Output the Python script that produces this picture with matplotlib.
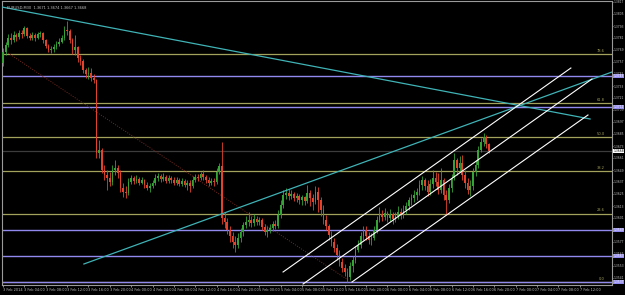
import numpy as np
import matplotlib
matplotlib.use('Agg')
import matplotlib.pyplot as plt

# prices are kept in points (1 point = 0.0001)
POINT = 1e-4
symbol_line = 'EURUSD,M30  1.3671 1.3674 1.3667 1.3668'

open_first = 13756
close_pts = [
    13767, 13774, 13781, 13779, 13784, 13782, 13786, 13785, 13791, 13783,
    13781, 13784, 13781, 13785, 13786, 13779, 13773, 13769, 13770, 13772,
    13775, 13777, 13781, 13789, 13788, 13779, 13769, 13772, 13761, 13758,
    13749, 13745, 13746, 13741, 13739, 13666, 13669, 13649, 13644, 13641,
    13637, 13649, 13651, 13646, 13631, 13627, 13626, 13637, 13641, 13638,
    13640, 13636, 13639, 13634, 13631, 13633, 13636, 13641, 13643, 13640,
    13642, 13638, 13641, 13639, 13636, 13639, 13635, 13638, 13634, 13636,
    13633, 13639, 13642, 13641, 13645, 13642, 13639, 13636, 13638, 13637,
    13647, 13653, 13601, 13597, 13589, 13583, 13577, 13574, 13581, 13587,
    13594, 13597, 13599, 13596, 13600, 13597, 13599, 13592, 13587, 13589,
    13591, 13595, 13593, 13604, 13614, 13624, 13626, 13623, 13625, 13621,
    13623, 13619, 13622, 13618, 13626, 13621, 13617, 13627, 13619, 13609,
    13599, 13593, 13584, 13577, 13571, 13564, 13557, 13551, 13547, 13542,
    13553, 13559, 13569, 13574, 13583, 13589, 13583, 13579, 13581, 13589,
    13599, 13605, 13602, 13606, 13601, 13605, 13600, 13603, 13607, 13604,
    13609, 13613, 13619, 13621, 13624, 13627, 13634, 13639, 13633, 13627,
    13635, 13641, 13637, 13629, 13639, 13624, 13619, 13631, 13641, 13659,
    13651, 13656, 13644, 13636, 13629, 13633, 13647, 13654, 13669, 13677,
    13682, 13675, 13668]
high_pts = [
    13771, 13777, 13785, 13786, 13788, 13786, 13789, 13789, 13793, 13792,
    13786, 13787, 13786, 13787, 13788, 13787, 13780, 13775, 13773, 13775,
    13778, 13781, 13784, 13793, 13798, 13790, 13781, 13784, 13773, 13764,
    13760, 13751, 13752, 13751, 13745, 13740, 13679, 13671, 13654, 13649,
    13647, 13654, 13659, 13654, 13649, 13636, 13633, 13641, 13644, 13643,
    13644, 13642, 13642, 13640, 13637, 13636, 13639, 13645, 13646, 13645,
    13646, 13644, 13644, 13643, 13642, 13642, 13641, 13641, 13640, 13639,
    13639, 13643, 13645, 13645, 13647, 13649, 13644, 13642, 13641, 13641,
    13651, 13656, 13677, 13607, 13601, 13593, 13587, 13583, 13586, 13591,
    13597, 13603, 13607, 13603, 13605, 13603, 13602, 13601, 13595, 13593,
    13595, 13598, 13599, 13609, 13619, 13629, 13631, 13630, 13629, 13627,
    13626, 13625, 13624, 13623, 13634, 13629, 13625, 13633, 13632, 13622,
    13614, 13604, 13595, 13588, 13581, 13575, 13569, 13561, 13555, 13551,
    13557, 13563, 13573, 13579, 13587, 13593, 13593, 13587, 13586, 13593,
    13603, 13612, 13609, 13611, 13608, 13610, 13607, 13607, 13613, 13611,
    13614, 13617, 13622, 13625, 13629, 13631, 13639, 13643, 13641, 13639,
    13640, 13649, 13647, 13646, 13651, 13641, 13629, 13635, 13645, 13666,
    13661, 13663, 13664, 13649, 13641, 13639, 13651, 13659, 13673, 13681,
    13686, 13684, 13676]
low_pts = [
    13753, 13764, 13772, 13775, 13777, 13778, 13780, 13781, 13783, 13781,
    13779, 13779, 13778, 13780, 13782, 13776, 13771, 13767, 13766, 13767,
    13770, 13773, 13776, 13779, 13784, 13776, 13765, 13764, 13757, 13754,
    13746, 13741, 13740, 13738, 13736, 13661, 13661, 13646, 13639, 13629,
    13633, 13634, 13644, 13641, 13627, 13622, 13621, 13624, 13635, 13635,
    13636, 13634, 13635, 13631, 13629, 13627, 13631, 13634, 13638, 13637,
    13638, 13636, 13636, 13636, 13634, 13634, 13633, 13633, 13632, 13629,
    13627, 13631, 13637, 13638, 13639, 13639, 13636, 13633, 13634, 13633,
    13635, 13645, 13595, 13591, 13585, 13577, 13571, 13567, 13571, 13577,
    13583, 13591, 13593, 13592, 13593, 13594, 13594, 13589, 13584, 13582,
    13586, 13588, 13590, 13591, 13601, 13611, 13620, 13619, 13620, 13618,
    13617, 13615, 13614, 13614, 13616, 13613, 13609, 13615, 13607, 13603,
    13595, 13589, 13579, 13573, 13567, 13559, 13553, 13547, 13543, 13537,
    13539, 13547, 13556, 13567, 13571, 13579, 13579, 13575, 13574, 13579,
    13586, 13597, 13598, 13599, 13597, 13598, 13595, 13597, 13600, 13600,
    13601, 13605, 13609, 13614, 13617, 13619, 13624, 13629, 13629, 13623,
    13624, 13631, 13633, 13625, 13626, 13619, 13604, 13616, 13627, 13639,
    13644, 13647, 13639, 13631, 13625, 13623, 13629, 13643, 13651, 13667,
    13673, 13671, 13666]

# fibonacci retracement
fib_high = 13827
fib_low = 13537
fib_ratios = [0.0, 23.6, 38.2, 50.0, 61.8, 78.6]

# horizontal support / resistance lines
hlines_pts = [13743, 13712, 13589, 13563, 13537]

# trend lines: (bar0, price0, bar1, price1)
cyan_lines = [(-0.4, 13812, 219.9, 13700),
              (30.3, 13555, 228.1, 13747)]
channel_lines = [(104.9, 13547, 212.7, 13751),
                 (112.4, 13535, 220.6, 13740),
                 (130.7, 13537, 219.1, 13704)]
fib_diag = (1.9, 13766, 129.2, 13539)

time_labels = ['3 Feb 2014', '3 Feb 04:00', '3 Feb 08:00', '3 Feb 12:00',
               '3 Feb 16:00', '3 Feb 20:00', '4 Feb 00:00', '4 Feb 04:00',
               '4 Feb 08:00', '4 Feb 12:00', '4 Feb 16:00', '4 Feb 20:00',
               '5 Feb 00:00', '5 Feb 04:00', '5 Feb 08:00', '5 Feb 12:00',
               '5 Feb 16:00', '5 Feb 20:00', '6 Feb 00:00', '6 Feb 04:00',
               '6 Feb 08:00', '6 Feb 12:00', '6 Feb 16:00', '6 Feb 20:00',
               '7 Feb 00:00', '7 Feb 04:00', '7 Feb 08:00', '7 Feb 12:00']
bars_per_label = 8

GREEN = '#36a336'
RED = '#e2432d'
OLIVE = '#a3a25c'
PURPLE = '#9189ee'
CYAN = '#3fb3b6'
AXTXT = '#c0c0c0'

close = np.array(close_pts) * POINT
high = np.array(high_pts) * POINT
low = np.array(low_pts) * POINT
opens = np.r_[open_first * POINT, close[:-1]]
x = np.arange(len(close))
up = close >= opens
cols = np.where(up, GREEN, RED)

fig = plt.figure(figsize=(6.25, 2.95), dpi=100, facecolor='black')
ax = fig.add_axes([2 / 625, 10 / 295, 610 / 625, 284 / 295], facecolor='black')

# horizontal lines first so the candles sit on top
fib_levels = (fib_low + np.array(fib_ratios) / 100 * (fib_high - fib_low)) * POINT
for r, lvl in zip(fib_ratios, fib_levels):
    ax.axhline(lvl, color=OLIVE, lw=0.9, zorder=1)
    ax.text(225.5, lvl + 1.2 * POINT, f'{r:.1f}', color=OLIVE, fontsize=2.6,
            ha='right', va='bottom', zorder=5)

for lvl in np.array(hlines_pts) * POINT:
    ax.axhline(lvl, color=PURPLE, lw=1.0, zorder=1)
    ax.text(1.002, lvl, f'{lvl:.4f}', transform=ax.get_yaxis_transform(),
            fontsize=2.2, color='white', ha='left', va='center', clip_on=False,
            bbox=dict(facecolor=PURPLE, edgecolor='none', pad=0.3), zorder=6)

# current price line
ax.axhline(close[-1], color='#3c3c3c', lw=0.9, zorder=1)
ax.text(1.002, close[-1], f'{close[-1]:.4f}', transform=ax.get_yaxis_transform(),
        fontsize=2.2, color='black', ha='left', va='center', clip_on=False,
        bbox=dict(facecolor='white', edgecolor='none', pad=0.3), zorder=6)

# candles
ax.vlines(x, low, high, colors=cols, lw=0.6, zorder=3)
body = np.maximum(np.abs(close - opens), 0.6 * POINT)
ax.bar(x, body, bottom=np.minimum(close, opens), width=0.65, color=cols,
       lw=0, zorder=3)

# drawn objects
b0, p0, b1, p1 = fib_diag
ax.plot([b0, b1], [p0 * POINT, p1 * POINT], color='#7a2a22', lw=0.7,
        ls=(0, (1, 1.5)), zorder=2)
for b0, p0, b1, p1 in cyan_lines:
    ax.plot([b0, b1], [p0 * POINT, p1 * POINT], color=CYAN, lw=0.9, zorder=4)
for b0, p0, b1, p1 in channel_lines:
    ax.plot([b0, b1], [p0 * POINT, p1 * POINT], color='white', lw=0.8, zorder=4)

ax.set_xlim(-0.37, 228.1)
ax.set_ylim(1.3534, 1.3818)

ax.yaxis.tick_right()
yt = np.arange(13817, 13530, -12) * POINT
ax.set_yticks(yt)
ax.set_yticklabels([f'{v:.4f}' for v in yt])
xt = np.arange(len(time_labels)) * bars_per_label
ax.set_xticks(xt)
ax.set_xticklabels(time_labels, ha='left')
ax.tick_params(axis='x', colors=AXTXT, labelsize=2.5, length=1.5, width=0.5,
               pad=0.8)
ax.tick_params(axis='y', colors=AXTXT, labelsize=2.2, length=1, width=0.5,
               pad=0.4)
for s in ax.spines.values():
    s.set_color('#9a9a9a')
    s.set_linewidth(0.8)

fig.text(7 / 625, 1 - 9 / 295, symbol_line, color=AXTXT, fontsize=2.6)

fig.savefig('out.png', dpi=100, facecolor='black')
